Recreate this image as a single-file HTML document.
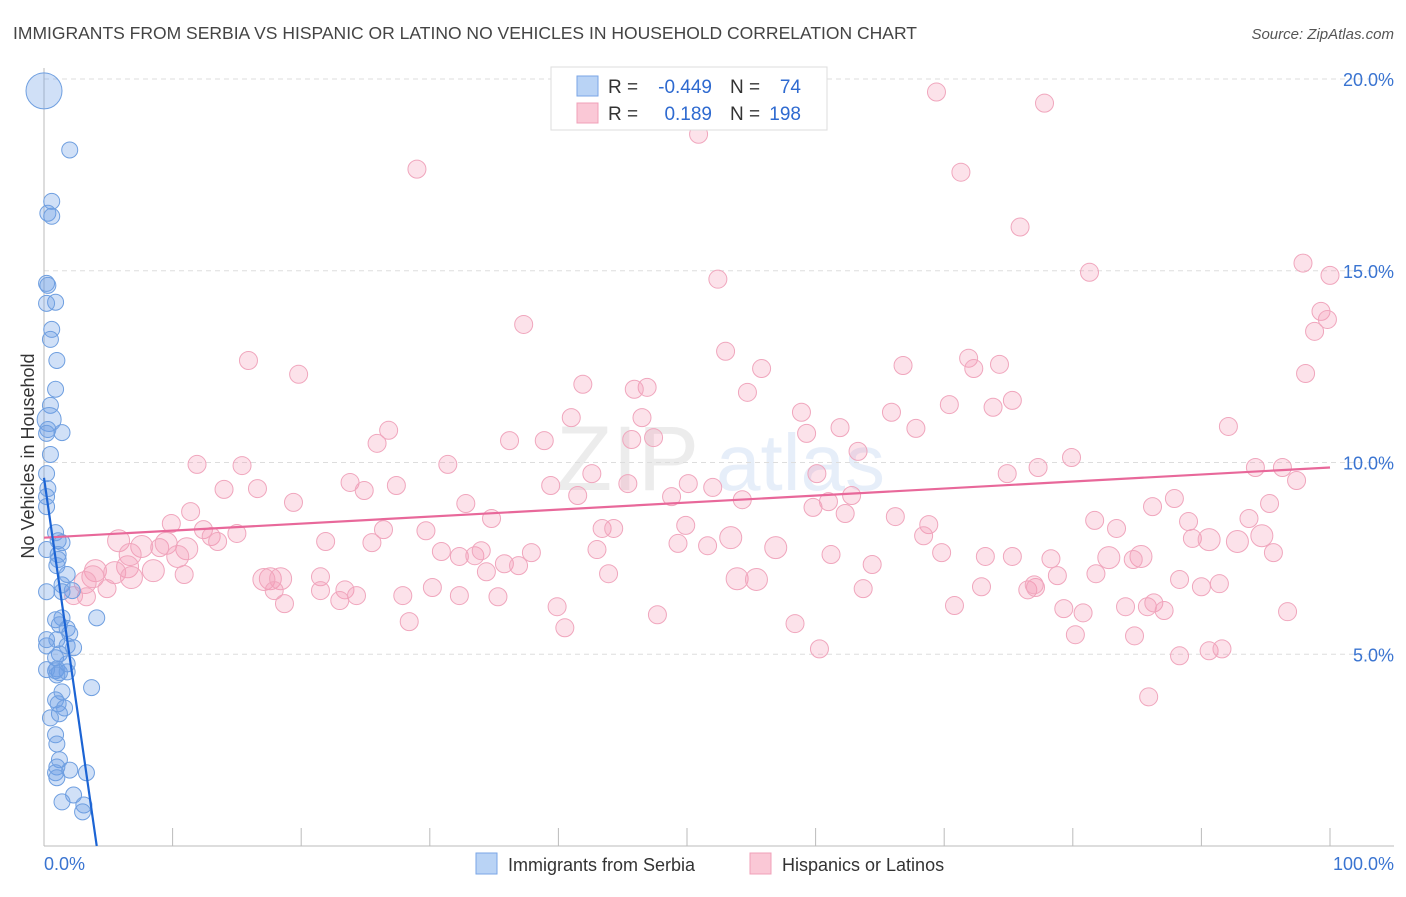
<!DOCTYPE html>
<html><head><meta charset="utf-8"><style>
body{margin:0;background:#fff;font-family:"Liberation Sans",sans-serif;}
svg text{font-family:"Liberation Sans",sans-serif;}
</style></head><body>
<svg id="chart" width="1406" height="892" xmlns="http://www.w3.org/2000/svg">
<text x="13" y="39" font-size="17.5" fill="#444">IMMIGRANTS FROM SERBIA VS HISPANIC OR LATINO NO VEHICLES IN HOUSEHOLD CORRELATION CHART</text>
<text x="1394" y="39" font-size="15" fill="#555" text-anchor="end" font-style="italic">Source: ZipAtlas.com</text>
<g opacity="0.13"><text x="556" y="490" font-size="92" font-family="Liberation Serif" fill="#777">ZIP</text><text x="716" y="490" font-size="80" fill="#4a7fd6">atlas</text></g>
<g id="grid"></g>
<g id="axes"></g>
<g id="pink"></g>
<g id="blue"></g>
<g id="trends"></g>
<text transform="translate(34,456) rotate(-90)" font-size="18" fill="#333" text-anchor="middle">No Vehicles in Household</text>
<g>
<rect x="551" y="67" width="276" height="63" fill="#fff" stroke="#ddd"/>
<rect x="577" y="76" width="21" height="20" fill="#b9d3f5" stroke="#7aa6e6"/>
<rect x="577" y="103" width="21" height="20" fill="#fac8d6" stroke="#f0a0b8"/>
<text x="608" y="93" font-size="19" fill="#333">R =</text><text x="712" y="93" font-size="19" fill="#2e6ad0" text-anchor="end">-0.449</text>
<text x="730" y="93" font-size="19" fill="#333">N =</text><text x="801" y="93" font-size="19" fill="#2e6ad0" text-anchor="end">74</text>
<text x="608" y="120" font-size="19" fill="#333">R =</text><text x="712" y="120" font-size="19" fill="#2e6ad0" text-anchor="end">0.189</text>
<text x="730" y="120" font-size="19" fill="#333">N =</text><text x="801" y="120" font-size="19" fill="#2e6ad0" text-anchor="end">198</text>
</g>
<g>
<rect x="476" y="853" width="21" height="21" fill="#b9d3f5" stroke="#7aa6e6"/>
<text x="508" y="871" font-size="18" fill="#333">Immigrants from Serbia</text>
<rect x="750" y="853" width="21" height="21" fill="#fac8d6" stroke="#f0a0b8"/>
<text x="782" y="871" font-size="18" fill="#333">Hispanics or Latinos</text>
</g>
</svg>
<script>
const yTicks=[5,10,15,20];
const yTickLabels=["5.0%","10.0%","15.0%","20.0%"];
const xTickLabels=["0.0%","100.0%"];
const blueX=[0,2.0,0.6,0.3,0.6,0.2,0.3,0.9,0.2,0.6,0.5,1.0,0.9,0.5,0.4,0.3,1.4,0.2,0.5,0.2,0.3,0.2,0.2,0.9,1.1,1.4,0.2,1.1,1.1,1.0,1.8,1.4,2.2,1.4,0.2,4.1,1.4,0.9,1.2,1.8,2.0,1.0,1.8,0.2,2.3,1.2,0.9,1.8,1.0,0.9,1.2,1.8,0.2,1.0,3.7,1.4,0.9,1.1,1.6,1.2,0.5,0.9,1.0,1.2,1.0,2.0,3.3,0.9,1.0,2.3,1.4,3.1,3.0,0.2];
const blueY=[19.69,18.15,16.81,16.5,16.42,14.67,14.62,14.18,14.15,13.47,13.21,12.66,11.91,11.49,11.12,10.86,10.78,10.76,10.21,9.71,9.32,9.11,8.85,8.17,7.96,7.91,7.73,7.6,7.47,7.31,7.08,6.81,6.66,6.63,6.63,5.95,5.95,5.9,5.77,5.67,5.54,5.38,5.22,5.22,5.17,5.01,4.91,4.75,4.62,4.57,4.52,4.54,4.6,4.46,4.13,4.02,3.81,3.71,3.6,3.45,3.34,2.9,2.66,2.25,2.06,1.98,1.91,1.91,1.78,1.33,1.15,1.07,0.89,5.38];
const blueSize=[18,8,8,8,8,8,8,8,8,8,8,8,8,8,12,8,8,8,8,8,8,8,8,8,8,8,8,8,8,8,8,8,8,8,8,8,8,8,8,8,8,8,8,8,8,8,8,8,8,8,8,8,8,8,8,8,8,8,8,8,8,8,8,8,8,8,8,8,8,8,8,8,8,8];
const pinkX=[56.4,69.4,77.8,50.9,29.0,71.3,75.9,97.9,100,81.3,52.4,99.3,99.8,98.8,37.3,15.9,53.0,71.9,66.8,74.3,72.3,55.8,19.8,98.1,41.9,46.9,45.9,54.7,75.3,70.4,73.8,65.9,58.9,41.0,46.5,92.1,26.8,61.9,67.8,59.3,25.9,36.2,38.9,47.4,45.7,63.3,11.9,15.4,31.4,79.9,94.2,96.3,77.3,74.9,60.1,42.6,23.8,27.4,39.4,45.4,97.4,14.0,16.6,50.1,24.9,52.0,62.8,87.9,41.5,54.3,48.8,19.4,32.8,61.0,59.8,86.2,95.3,11.4,62.3,66.2,34.8,81.7,89.0,93.7,9.9,49.9,12.4,68.8,83.4,26.4,29.7,43.4,44.3,15.0,13.0,21.9,68.4,89.3,94.7,92.8,90.6,5.8,9.0,13.5,25.5,49.3,51.6,53.4,56.9,7.6,11.1,9.5,6.7,10.4,85.3,95.6,30.9,32.3,33.5,37.9,34.0,35.8,36.9,43.0,61.2,69.8,73.2,78.3,82.8,6.5,4.0,5.5,8.5,3.8,10.9,34.4,43.9,64.4,75.3,84.7,21.5,17.6,17.1,18.4,53.9,55.4,3.2,6.8,4.9,17.9,3.3,2.3,21.5,23.4,35.3,30.2,32.3,27.9,24.3,23.0,18.7,76.5,77.1,90.0,88.3,91.4,85.8,86.3,84.1,70.8,79.3,80.8,87.1,96.7,39.9,47.7,28.4,40.5,58.4,80.2,84.8,88.3,90.6,91.6,60.3,85.9,78.8,77.0,63.7,72.9,81.8];
const pinkY=[19.87,19.66,19.37,18.56,17.65,17.57,16.14,15.2,14.88,14.96,14.78,13.94,13.73,13.42,13.6,12.66,12.9,12.72,12.53,12.56,12.45,12.45,12.3,12.32,12.04,11.96,11.91,11.83,11.62,11.51,11.44,11.31,11.31,11.17,11.17,10.94,10.84,10.91,10.89,10.76,10.5,10.57,10.57,10.65,10.6,10.29,9.95,9.92,9.95,10.13,9.87,9.87,9.87,9.71,9.71,9.71,9.48,9.4,9.4,9.45,9.53,9.3,9.32,9.45,9.27,9.35,9.14,9.06,9.14,9.03,9.11,8.96,8.93,8.98,8.83,8.85,8.93,8.72,8.67,8.59,8.54,8.49,8.46,8.54,8.41,8.36,8.25,8.38,8.28,8.25,8.22,8.28,8.28,8.15,8.07,7.94,8.09,8.02,8.09,7.94,7.99,7.96,7.78,7.94,7.91,7.89,7.83,8.04,7.78,7.81,7.75,7.89,7.6,7.55,7.55,7.65,7.68,7.55,7.57,7.65,7.7,7.36,7.31,7.73,7.6,7.65,7.55,7.49,7.52,7.28,7.18,7.13,7.18,7.02,7.08,7.15,7.1,7.34,7.55,7.47,7.02,6.97,6.95,6.97,6.97,6.95,6.87,7.0,6.71,6.66,6.5,6.53,6.66,6.68,6.5,6.74,6.53,6.53,6.53,6.4,6.32,6.68,6.74,6.76,6.95,6.84,6.24,6.34,6.24,6.27,6.19,6.08,6.14,6.11,6.24,6.03,5.85,5.69,5.8,5.51,5.48,4.96,5.09,5.14,5.14,3.89,7.05,6.81,6.71,6.76,7.1];
const bigPink=[98,99,100,101,107,108,109,110,111,112,113,114,128,129,130,131,132,133,141,142,143,144,145,146,147];
const trendBlue=[9.6,4.1];   // intercept y, x where y hits 0
const trendPink=[8.04,9.87]; // y at x=0, y at x=100
const NS='http://www.w3.org/2000/svg';
const X0=44,X1=1330,Y0=846,Y20=79;
const sx=v=>X0+(X1-X0)*v/100;
const sy=v=>Y0-(Y0-Y20)*v/20;
function mk(tag,attrs,parent){const e=document.createElementNS(NS,tag);for(const k in attrs)e.setAttribute(k,attrs[k]);parent.appendChild(e);return e;}
const grid=document.getElementById('grid');
yTicks.forEach((t,i)=>{
  const l=mk('line',{x1:X0,x2:1394,y1:sy(t),y2:sy(t),stroke:'#ddd','stroke-dasharray':'5,4'},grid);
  
  
  const tx=mk('text',{x:1394,y:sy(t)+7,'font-size':18,fill:'#3a74d1','text-anchor':'end'},grid);
  tx.textContent=yTickLabels[i];
  
  
});
const axes=document.getElementById('axes');
mk('line',{x1:X0,x2:X0,y1:68,y2:Y0,stroke:'#bbb'},axes);
mk('line',{x1:X0,x2:1394,y1:Y0,y2:Y0,stroke:'#bbb'},axes);
for(let k=1;k<=10;k++){
  const t=mk('line',{x1:sx(k*10),x2:sx(k*10),y1:828,y2:Y0,stroke:'#bbb'},axes);
  
  
}
const xl0=mk('text',{x:X0,y:870,'font-size':18,fill:'#3a74d1'},axes);xl0.textContent=xTickLabels[0];


const xl1=mk('text',{x:1394,y:870,'font-size':18,fill:'#3a74d1','text-anchor':'end'},axes);xl1.textContent=xTickLabels[1];


const pg=document.getElementById('pink');
pinkX.forEach((x,i)=>{
  const c=mk('circle',{cx:sx(x),cy:sy(pinkY[i]),r:bigPink.includes(i)?11:9,fill:'rgba(245,150,180,0.28)',stroke:'#f0a6bd','stroke-width':1},pg);
  
  
});
const bg=document.getElementById('blue');
blueX.forEach((x,i)=>{
  const c=mk('circle',{cx:sx(x),cy:sy(blueY[i]),r:blueSize[i],fill:'rgba(110,160,230,0.32)',stroke:'#6f9fe0','stroke-width':1},bg);
  
  
});
const tg=document.getElementById('trends');
const pl=mk('line',{x1:sx(0),y1:sy(trendPink[0]),x2:sx(100),y2:sy(trendPink[1]),stroke:'#e8689a','stroke-width':2.2},tg);


const bl=mk('line',{x1:sx(0),y1:sy(trendBlue[0]),x2:sx(trendBlue[1]),y2:sy(0),stroke:'#1c64d4','stroke-width':2.2},tg);


</script>
</body></html>
